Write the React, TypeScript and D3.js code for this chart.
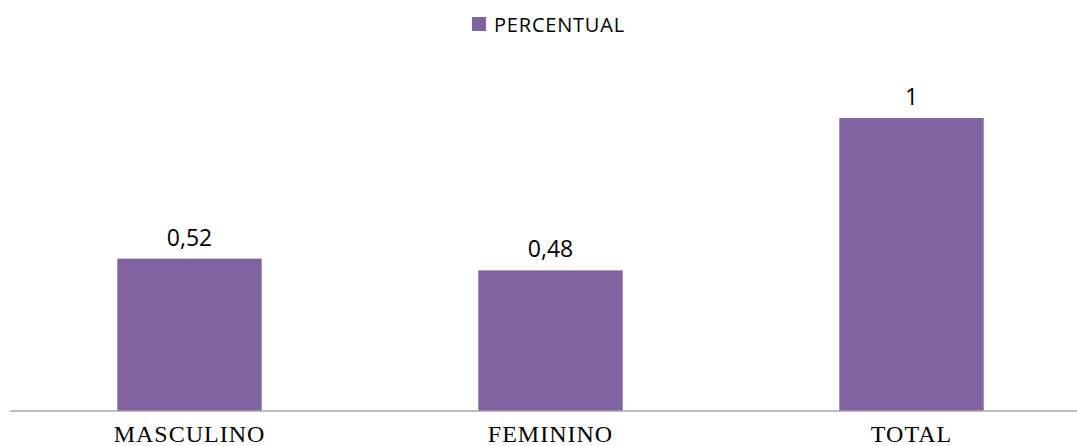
import React from "react";
import * as d3 from "d3";

const categories = ["MASCULINO", "FEMININO", "TOTAL"];
const values = [0.52, 0.48, 1];
const valueLabels = ["0,52", "0,48", "1"];
const seriesName = "PERCENTUAL";

const W = 1077;
const H = 446;
const COLOR = "#8064A2";

export default function App() {
  const x = d3
    .scaleBand<string>()
    .domain(categories)
    .range([9, 1092])
    .paddingInner(0.6)
    .paddingOuter(0.3);
  const y = d3.scaleLinear().domain([0, 1]).range([411, 118]);

  return (
    <svg
      width={W}
      height={H}
      style={{ position: "absolute", left: 0, top: 0, background: "#fff" }}
    >
      <g>
        <rect x={472} y={17} width={14} height={14} fill={COLOR} />
        <text
          x={494}
          y={31.5}
          fontFamily="'Open Sans', sans-serif"
          fontSize={20}
          letterSpacing={0.8}
          fill="#000"
        >
          {seriesName}
        </text>
      </g>
      {categories.map((c, i) => (
        <g key={c}>
          <rect
            x={x(c)!}
            y={y(values[i])}
            width={x.bandwidth()}
            height={y(0) - y(values[i])}
            fill={COLOR}
          />
          <text
            x={x(c)! + x.bandwidth() / 2}
            y={y(values[i]) - 13}
            textAnchor="middle"
            fontFamily="'Open Sans', sans-serif"
            fontSize={23}
            fill="#000"
          >
            {valueLabels[i]}
          </text>
          <text
            x={x(c)! + x.bandwidth() / 2}
            y={442}
            textAnchor="middle"
            fontFamily="'Liberation Serif', 'Times New Roman', serif"
            fontSize={24}
            letterSpacing={1}
            fill="#000"
          >
            {c}
          </text>
        </g>
      ))}
      <line x1={10} x2={W} y1={411} y2={411} stroke="#A6A6A6" strokeWidth={1.5} />
    </svg>
  );
}
